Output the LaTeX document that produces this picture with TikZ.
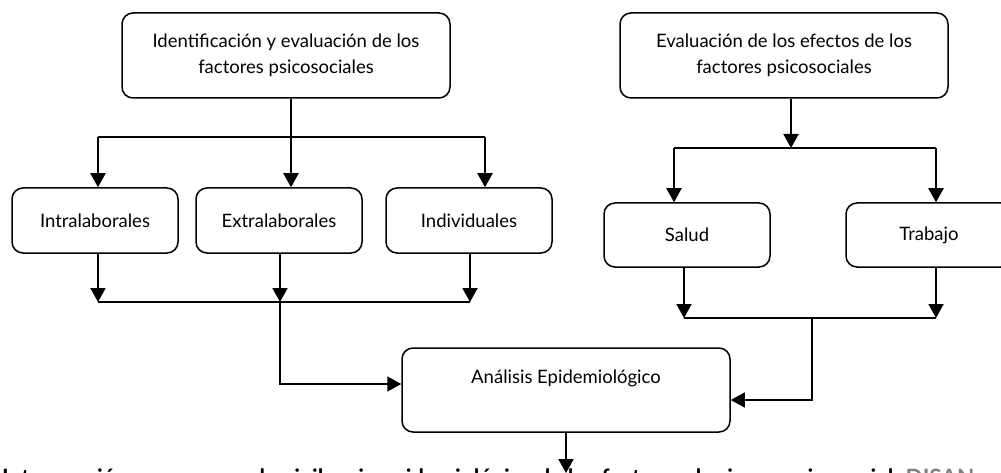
\documentclass[tikz,border=0pt]{standalone}
\usepackage{fontspec}
\setmainfont{Lato}
\usetikzlibrary{arrows.meta,calc}
\begin{document}
\begin{tikzpicture}[x=1pt,y=-1pt,
  box/.style={draw,line width=1.5pt,rounded corners=11pt,align=center,inner sep=0pt,
    font=\fontsize{18.5}{26}\selectfont},
  vline/.style={line width=2pt},
  hline/.style={line width=1.4pt},
  arr/.style={line width=2pt,-{Triangle[length=14pt,width=15pt]}},
]
\useasboundingbox (0,0) rectangle (1001,473);
\clip (0,0) rectangle (1001,473);
% boxes
\node[box,minimum width=328pt,minimum height=85pt] (A) at (286,55.5) {Identificación y evaluación de los\\factores psicosociales};
\node[box,minimum width=328pt,minimum height=85pt] (B) at (784,55.5) {Evaluación de los efectos de los\\factores psicosociales};
\node[box,minimum width=166pt,minimum height=65pt] (intra) at (95,220.5) {Intralaborales};
\node[box,minimum width=166pt,minimum height=65pt] (extra) at (279,220.5) {Extralaborales};
\node[box,minimum width=166pt,minimum height=65pt] (indiv) at (469,220.5) {Individuales};
\node[box,minimum width=166pt,minimum height=64pt] (salud) at (687,235) {Salud};
\node[box,minimum width=166pt,minimum height=64pt] (trab) at (929,235) {Trabajo};
\node[box,minimum width=328pt,minimum height=84pt] (anal) at (566,390) {Análisis Epidemiológico\\\mbox{}};
% bottom (cut) text
\node[anchor=base west,inner sep=0pt,font=\fontsize{22.5}{26}\selectfont\bfseries] (cap) at (2,485)
  {Intervención: programas de vigilancia epidemiológica de los factores de riesgo psicosocial. \textcolor{gray}{DISAN}};
% junctions
\coordinate (a0) at (98,137);
\coordinate (a1) at (291,137);
\coordinate (a2) at (485,137);
\coordinate (b1) at (791,148);
\coordinate (b0) at (674,148);
\coordinate (b2) at (936,148);
\coordinate (c0) at (98,302);
\coordinate (c1) at (280,302);
\coordinate (c2) at (470,302);
\coordinate (c3) at (280,384);
\coordinate (d0) at (684,318);
\coordinate (d1) at (812,318);
\coordinate (d2) at (936,318);
\coordinate (d3) at (812,400);
\coordinate (e0) at (566,473);
% left branch
\draw[vline] (A.south -| a1) -- (a1);
\draw[hline] (a0) -- (a2);
\draw[arr] (a0) -- (a0 |- intra.north);
\draw[arr] (a1) -- (a1 |- extra.north);
\draw[arr] (a2) -- (a2 |- indiv.north);
\draw[arr] (intra.south -| c0) -- (c0);
\draw[arr] (extra.south -| c1) -- (c1);
\draw[arr] (indiv.south -| c2) -- (c2);
\draw[hline] (c0) -- (c2);
\draw[arr,line width=1.6pt] (c1) -- (c3) -- (c3 -| anal.west);
% right branch
\draw[arr] (B.south -| b1) -- (b1);
\draw[hline] (b0) -- (b2);
\draw[arr] (b0) -- (b0 |- salud.north);
\draw[arr] (b2) -- (b2 |- trab.north);
\draw[arr] (salud.south -| d0) -- (d0);
\draw[arr] (trab.south -| d2) -- (d2);
\draw[hline] (d0) -- (d2);
\draw[arr,line width=1.6pt] (d1) -- (d3) -- (d3 -| anal.east);
% bottom
\draw[arr] (anal.south -| e0) -- (e0);
\end{tikzpicture}
\end{document}
